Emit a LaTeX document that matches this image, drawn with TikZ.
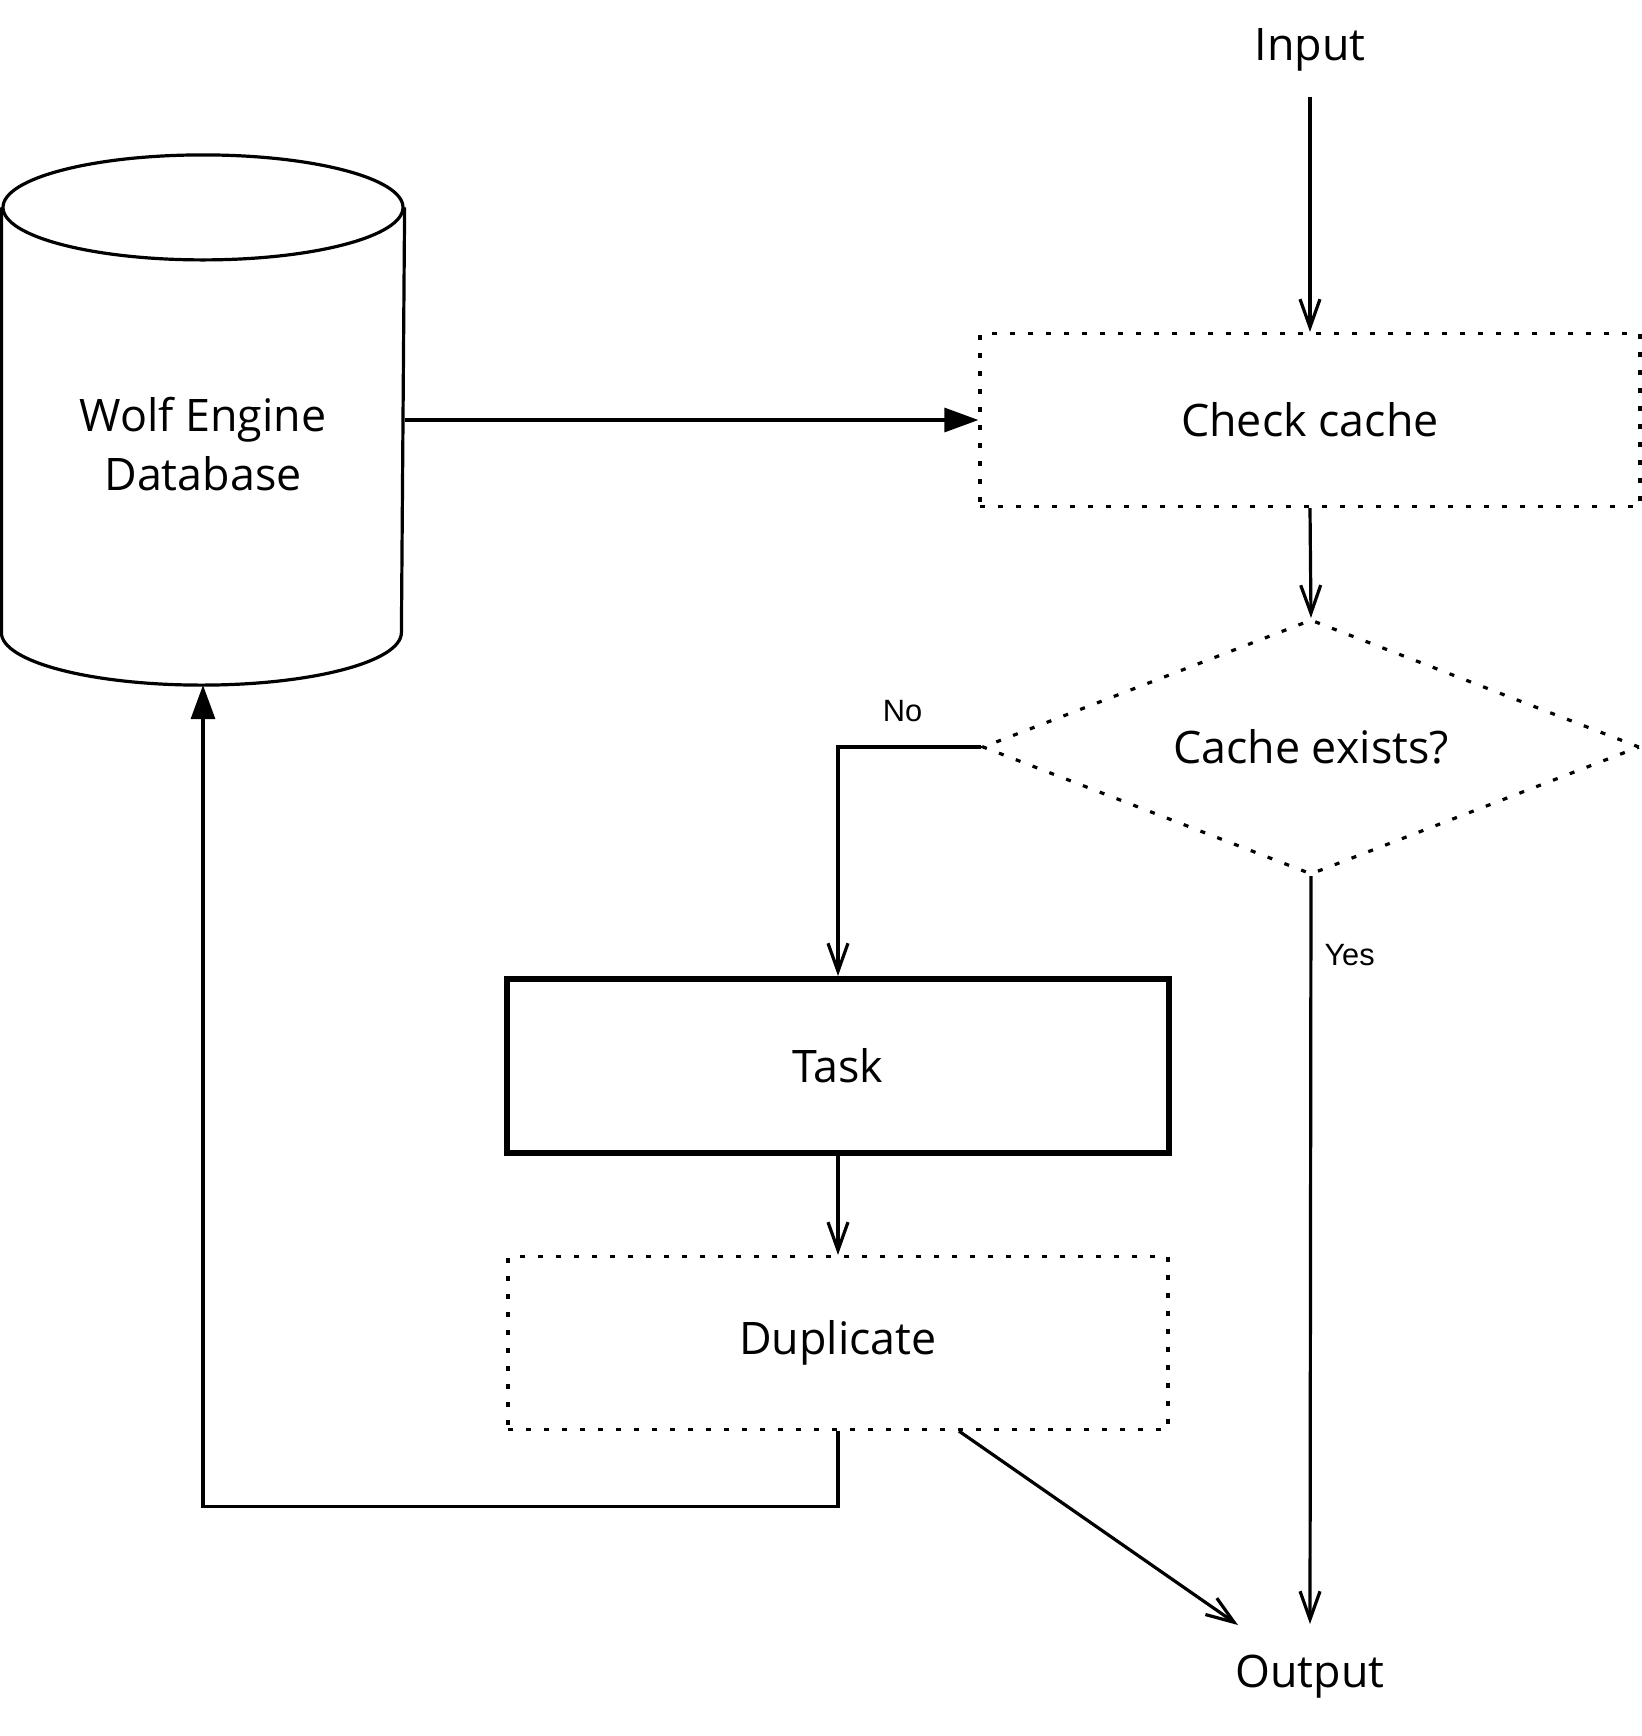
\documentclass[tikz,border=0pt]{standalone}
\usepackage{fontspec}
\setmainfont{Open Sans}
\newfontfamily\lblfont{Liberation Sans}
\usetikzlibrary{arrows.meta,shapes.geometric}
\begin{document}
\begin{tikzpicture}[x=0.5pt,y=-0.5pt,line width=1.6pt,
  every node/.style={font=\fontsize{22.4}{29.3}\selectfont},
  dotline/.style={dash pattern=on 2.5pt off 6.5pt},
  dotbox/.style={draw,dotline,rectangle,minimum width=330pt,minimum height=86.5pt,inner sep=0pt},
  taskbox/.style={draw,rectangle,line width=3pt,minimum width=331pt,minimum height=87pt,inner sep=0pt},
  openarrow/.style={-{Straight Barb[length=14pt,width=10pt]}},
  fillarrow/.style={-{Triangle[length=17pt,width=12pt]}},
  lbl/.style={font=\lblfont\fontsize{15.4}{18}\selectfont,inner sep=2pt}]
\useasboundingbox (0,0) rectangle (1642,1736);
% nodes
\node[inner sep=12pt] (input) at (1310,50) {Input};
\node[dotbox] (check) at (1310,420) {Check cache};
\node[diamond,draw,dotline,aspect=2.58,minimum width=328.5pt,minimum height=127.5pt,inner sep=0pt] (dia) at (1311,747) {Cache exists?};
\node[taskbox] (task) at (838,1066) {Task};
\node[dotbox] (dup) at (838,1343) {Duplicate};
\node[rectangle,minimum width=200pt,minimum height=263.5pt,inner sep=0pt] (db) at (203,420) {};
\node[align=center,inner sep=0pt] (dbtext) at (203,444) {Wolf Engine\\Database};
\node (output) at (1310,1677) {Output};
\coordinate (yesend) at (1310,1624);
\coordinate (outtip) at (1238,1625);
% cylinder
\draw ([yshift=-26.25pt]db.north) ellipse [x radius=100pt,y radius=26.25pt];
\draw ([yshift=-26.25pt]db.north west) -- ([yshift=26.25pt]db.south west)
  arc[start angle=180,end angle=360,x radius=100pt,y radius=26.25pt]
  -- ([yshift=-26.25pt]db.north east);
% connectors
\draw[openarrow] (input.south) -- (check.north);
\draw[fillarrow] (db.east) -- (check.west);
\draw[openarrow] (check.south) -- (dia.north);
\draw[openarrow] (dia.west) -| (task.north) node[pos=0.25,above=10pt,xshift=-3.5pt,lbl] {No};
\draw[openarrow] (dia.south) -- (yesend) node[pos=0.105,right=4pt,lbl] {Yes};
\draw[openarrow] (task.south) -- (dup.north);
\draw[fillarrow] (dup.south) -- ++(0,75) -| (db.south);
\draw[openarrow] ([xshift=60.5pt]dup.south) -- (outtip);
\end{tikzpicture}
\end{document}
